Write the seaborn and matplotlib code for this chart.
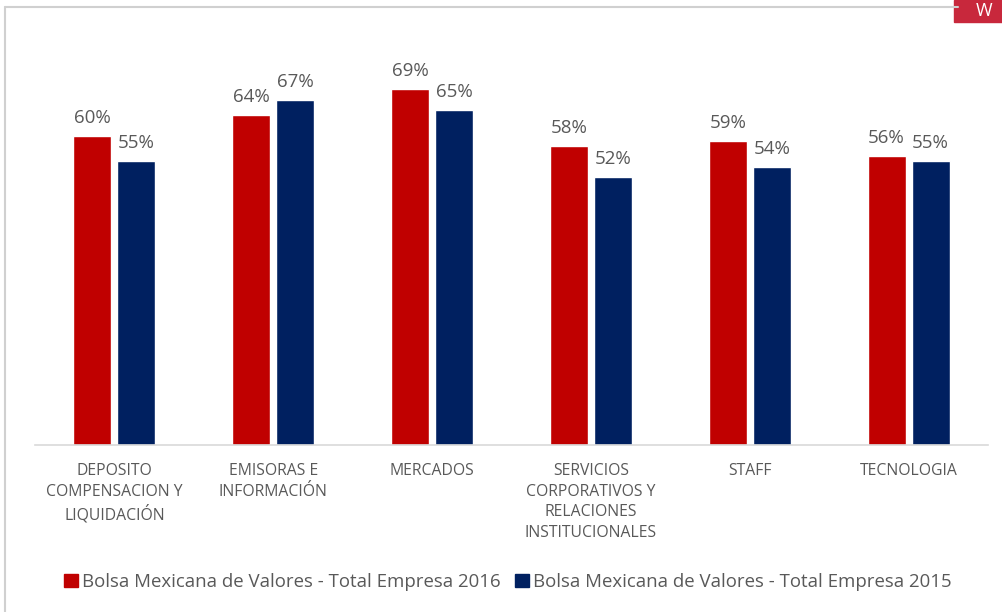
import matplotlib
matplotlib.use("Agg")
import matplotlib.pyplot as plt
import seaborn as sns
import pandas as pd
from matplotlib.patches import Rectangle
from matplotlib.lines import Line2D

categories = [
    "DEPOSITO\nCOMPENSACION Y\nLIQUIDACIÓN",
    "EMISORAS E\nINFORMACIÓN",
    "MERCADOS",
    "SERVICIOS\nCORPORATIVOS Y\nRELACIONES\nINSTITUCIONALES",
    "STAFF",
    "TECNOLOGIA",
]
series_names = [
    "Bolsa Mexicana de Valores - Total Empresa 2016",
    "Bolsa Mexicana de Valores - Total Empresa 2015",
]
values_2016 = [0.60, 0.64, 0.69, 0.58, 0.59, 0.56]
values_2015 = [0.55, 0.67, 0.65, 0.52, 0.54, 0.55]

colors = ["#C00000", "#002060"]
text_grey = "#595959"

df = pd.DataFrame({
    "categoria": categories * 2,
    "serie": [series_names[0]] * len(categories) + [series_names[1]] * len(categories),
    "valor": values_2016 + values_2015,
})

sns.set_theme(style="white")
plt.rcParams["font.family"] = ["Open Sans", "DejaVu Sans"]

fig = plt.figure(figsize=(10.03, 6.12), dpi=100)
ax = fig.add_axes([35 / 1003, 167 / 612, 953 / 1003, (445 - 57) / 612])

sns.barplot(
    data=df, x="categoria", y="valor", hue="serie",
    hue_order=series_names, order=categories,
    palette=colors, width=0.554, gap=0.136, saturation=1,
    ax=ax, legend=False,
)

ax.set_ylim(0, 0.7526)
ax.set_xlim(-0.5, len(categories) - 0.5)
ax.set_xlabel("")
ax.set_ylabel("")
ax.set_yticks([])
for side in ["left", "right", "top"]:
    ax.spines[side].set_visible(False)
ax.spines["bottom"].set_color("#D9D9D9")
ax.spines["bottom"].set_linewidth(1.2)

ax.tick_params(axis="x", length=0, pad=13)
for lbl in ax.get_xticklabels():
    lbl.set_fontsize(11.3)
    lbl.set_color(text_grey)
    lbl.set_linespacing(1.38)
    lbl.set_verticalalignment("top")

for container in ax.containers:
    ax.bar_label(container, labels=[f"{v * 100:.0f}%" for v in container.datavalues],
                 padding=6.5, fontsize=13.5, color=text_grey)

handles = [Rectangle((0, 0), 1, 1, color=c) for c in colors]
fig.legend(handles, series_names, loc="center", bbox_to_anchor=(508 / 1003, 1 - 582 / 612),
           ncol=2, frameon=False, fontsize=13.4, labelcolor=text_grey,
           handlelength=0.75, handleheight=0.75, handletextpad=0.2, columnspacing=0.8)

# frame lines along the top and left edges
fig.add_artist(Line2D([5 / 1003, 958 / 1003], [1 - 7 / 612, 1 - 7 / 612],
                      color="#D0D0D0", lw=1.5, transform=fig.transFigure))
fig.add_artist(Line2D([5 / 1003, 5 / 1003], [0, 1 - 7 / 612],
                      color="#D0D0D0", lw=1.5, transform=fig.transFigure))

# corner badge
fig.add_artist(Rectangle((954 / 1003, 1 - 22 / 612), 49 / 1003, 22 / 612,
                         color="#C8283C", transform=fig.transFigure))
fig.text(976 / 1003, 1 - 11 / 612, "W", color="white", fontsize=13,
         va="center", ha="left")

fig.savefig("out.png", dpi=100, facecolor="white")
